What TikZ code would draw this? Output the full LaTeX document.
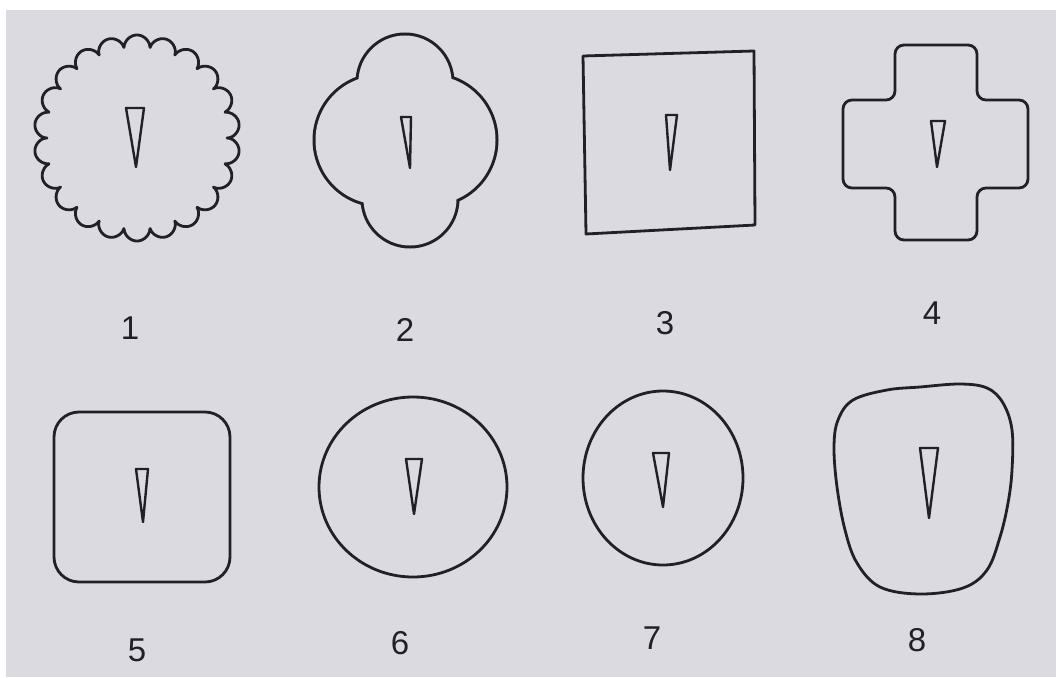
\documentclass[tikz,border=0pt]{standalone}
\usepackage{fontspec}
\setmainfont{Liberation Sans}
\definecolor{bg}{RGB}{218,218,224}
\definecolor{ink}{RGB}{32,32,40}
\tikzset{
  outline/.style={draw=ink, line width=2.8pt, line join=round},
  needle/.style={draw=ink, line width=2.4pt, line join=round},
  num/.style={font=\fontsize{33}{40}\selectfont, text=ink, inner sep=0pt},
}
\begin{document}
\begin{tikzpicture}[x=1pt, y=-1pt]
\useasboundingbox (0,0) rectangle (1056,677);
\fill[white] (0,0) rectangle (1056,677);
\fill[bg] (6,10) rectangle (1056,677);

% 1 scalloped disc
\draw[outline] plot[domain=0:360, samples=1441]
  ({137+(90+13*sqrt(abs(sin(11*\x))))*cos(\x)}, {138+(90+13*sqrt(abs(sin(11*\x))))*sin(\x)}) -- cycle;
\draw[needle] (126,108) -- (144,108) -- (136,167) -- cycle;
\node[num] (n1) at (130,328) {1};

% 2 quatrefoil (union of four circles)
\foreach \cx/\cy/\r in {405/82/48, 410/199/48, 380/140/66, 431/140/66}
  \draw[ink, line width=6pt] (\cx,\cy) circle[radius=\r-1.5];
\foreach \cx/\cy/\r in {405/82/48, 410/199/48, 380/140/66, 431/140/66}
  \fill[bg] (\cx,\cy) circle[radius=\r-1.5];
\draw[needle] (401,117) -- (411,117) -- (410,168) -- cycle;
\node[num] (n2) at (405,330) {2};

% 3 square
\draw[outline] (583,56) -- (754,51) -- (755,225) -- (586,234) -- cycle;
\draw[needle] (666,115) -- (677,115) -- (670,170) -- cycle;
\node[num] (n3) at (665,323) {3};

% 4 cross
\draw[outline, rounded corners=9pt] (895,45) -- (977,45) -- (977,100) -- (1028,100) -- (1028,188)
  -- (977,188) -- (977,240) -- (895,240) -- (895,188) -- (843,188) -- (843,100) -- (895,100) -- cycle;
\draw[needle] (931,121) -- (945,121) -- (937,167) -- cycle;
\node[num] (n4) at (932,313) {4};

% 5 rounded square
\draw[outline, rounded corners=25pt] (54,412) rectangle (230,582);
\draw[needle] (136,469) -- (148,469) -- (143,522) -- cycle;
\node[num] (n5) at (137,650) {5};

% 6 circle
\draw[outline] (413,487) ellipse[x radius=94, y radius=90];
\draw[needle] (406,459) -- (422,459) -- (414,514) -- cycle;
\node[num] (n6) at (400,643) {6};

% 7 circle
\draw[outline] (663,478) ellipse[x radius=80, y radius=87];
\draw[needle] (653,453) -- (669,453) -- (663,507) -- cycle;
\node[num] (n7) at (652,638) {7};

% 8 rounded trapezoid
\draw[outline] plot[smooth cycle, tension=0.6] coordinates {
  (853,400) (887,390) (920,387) (960,384) (987,388) (1003,403) (1012,430) (1012,470)
  (1008,503) (1000,537) (987,570) (963,588) (920,594) (880,587) (857,563) (845,530)
  (837,487) (834,447) (838,420)};
\draw[needle] (920,448) -- (938,448) -- (929,518) -- cycle;
\node[num] (n8) at (917,640) {8};
\end{tikzpicture}
\end{document}
